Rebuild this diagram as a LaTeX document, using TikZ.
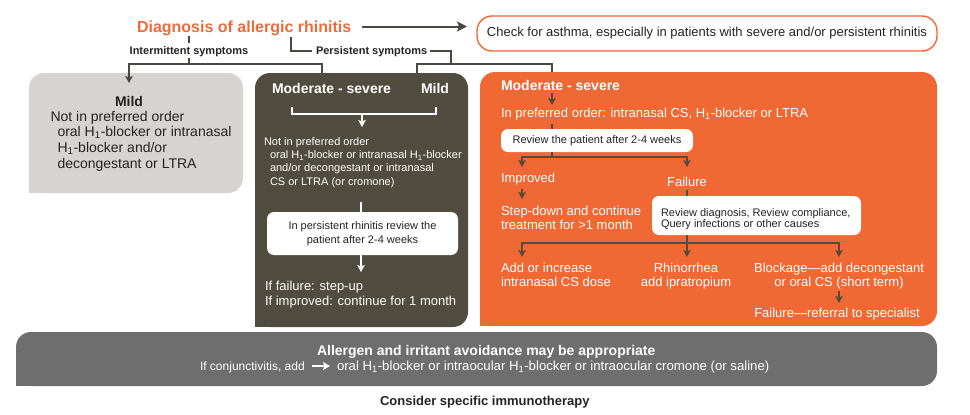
\documentclass[tikz,border=0pt]{standalone}
\usepackage{fontspec}
\setmainfont{Liberation Sans}
\usetikzlibrary{arrows.meta}
\definecolor{orng}{RGB}{240,104,52}
\definecolor{titleor}{RGB}{235,108,58}
\definecolor{darkbox}{RGB}{80,76,64}
\definecolor{lightbox}{RGB}{214,211,208}
\definecolor{bandcol}{RGB}{110,110,110}
\definecolor{conn}{RGB}{75,72,68}
\definecolor{oconn}{RGB}{88,74,62}
\definecolor{txt}{RGB}{35,35,35}
\newcommand{\fs}[2]{\fontsize{#1}{#2}\selectfont}
\newcommand{\Hone}{H\textsubscript{1}}
\newcommand{\mlL}[1]{\begin{tabular}[t]{@{}l@{}}#1\end{tabular}}
\newcommand{\mlC}[1]{\begin{tabular}[t]{@{}c@{}}#1\end{tabular}}
\begin{document}
\begin{tikzpicture}[x=1pt,y=-1pt,
  every node/.style={inner sep=0pt, outer sep=0pt},
  panel/.style={rounded corners=15pt, anchor=north west},
  wbox/.style={fill=white, rounded corners=7pt, anchor=north west},
  tx/.style={anchor=base west},
  tc/.style={anchor=base},
  conline/.style={draw=conn, line width=1.8pt},
  oline/.style={draw=oconn, line width=2.2pt},
  wline/.style={draw=white, line width=1.6pt},
  arr/.style={-{Stealth[length=7pt,width=7.5pt,inset=1.5pt]}},
]
\useasboundingbox (0,0) rectangle (970,415);

% ---------- panels ----------
\node[panel, fill=lightbox, minimum width=214pt, minimum height=120pt] (mildbox) at (29,73) {};
\fill[lightbox] (mildbox.south west) rectangle ++(16,-16);
\node[panel, fill=darkbox, minimum width=213pt, minimum height=254pt] (persbox) at (255,73) {};
\fill[darkbox] (persbox.south west) rectangle ++(16,-16);
\node[panel, fill=orng, minimum width=457pt, minimum height=254pt] (modbox) at (480,72) {};
\fill[orng] (modbox.south west) rectangle ++(16,-16);
\node[panel, fill=bandcol, minimum width=921pt, minimum height=54pt] (bandbox) at (16,332) {};
\fill[bandcol] (bandbox.south west) rectangle ++(16,-16);

% ---------- title and asthma box ----------
\node[tx, font=\bfseries\fs{16}{19}, text=titleor] (diag) at (137,32.5) {Diagnosis of allergic rhinitis};
\node[anchor=north west, draw=orng, line width=1.4pt, rounded corners=15pt, minimum width=460pt,
      minimum height=35pt, fill=white, font=\fs{13}{15}, text=txt] (check) at (477,16)
      {Check for asthma, especially in patients with severe and/or persistent rhinitis};
\coordinate (ta0) at (362,26.5);
\coordinate (ta1) at (467,26.5);
\draw[conline, line width=2pt, -{Stealth[length=10pt,width=10pt,inset=2pt]}] (ta0) -- (ta1);

% ---------- intermittent ----------
\node[tc, font=\bfseries\fs{11}{13}, text=txt] (intlab) at (189,54.5) {Intermittent symptoms};
\coordinate (i0) at (189,36);
\coordinate (i1) at (189,43);
\coordinate (i2) at (189,58);
\coordinate (i3) at (189,64);
\coordinate (imild) at (129,83);
\coordinate (imod) at (322,73);
\draw[conline] (i0) -- (i1);
\draw[conline] (i2) -- (i3);
\draw[conline, arr] (i3) -| (imild);
\draw[conline] (i3) -| (imod);

% ---------- persistent ----------
\node[tx, font=\bfseries\fs{11}{13}, text=txt] (perslab) at (316,54.5) {Persistent symptoms};
\coordinate (p0) at (291,37);
\coordinate (p1) at (312,51);
\coordinate (p2) at (430,51);
\coordinate (p3) at (451,64);
\coordinate (pmild) at (417,73);
\coordinate (pmod) at (552,72);
\coordinate (pj) at (552,64);
\draw[conline] (p0) |- (p1);
\draw[conline] (p2) -| (p3);
\draw[conline] (pmild) |- (pj) -- (pmod);

% ---------- light box ----------
\node[tc, font=\bfseries\fs{14}{16}, text=txt] (mildt) at (129,106.7) {Mild};
\node[tx, font=\fs{14}{15.8}, text=txt] (mildtx) at (50.5,121)
  {\mlL{Not in preferred order\\\hspace*{7pt}oral \Hone-blocker or intranasal\\\hspace*{7pt}\Hone-blocker and/or\\\hspace*{7pt}decongestant or LTRA}};

% ---------- dark box ----------
\node[tx, font=\bfseries\fs{14}{16}, text=white] (dmod) at (272,93.5) {Moderate - severe};
\node[tx, font=\bfseries\fs{14}{16}, text=white] (dmild) at (421,93.5) {Mild};
\coordinate (b0) at (292,107);
\coordinate (b1) at (436,114);
\coordinate (b2) at (436,107);
\coordinate (bm) at (362,114);
\coordinate (bt) at (362,127);
\draw[wline] (b0) |- (b1) -- (b2);
\draw[wline, arr] (bm) -- (bt);
\node[tx, font=\fs{11}{13.2}, text=white] (dtx) at (264,145.5)
  {\mlL{Not in preferred order\\\hspace*{6pt}oral \Hone-blocker or intranasal \Hone-blocker\\\hspace*{6pt}and/or decongestant or intranasal\\\hspace*{6pt}CS or LTRA (or cromone)}};
\node[wbox, minimum width=191pt, minimum height=43pt, font=\fs{11}{14.5}, text=txt, align=center] (rev3) at (267,212)
  {In persistent rhinitis review the\\patient after 2-4 weeks};
\coordinate (d0) at (361,202);
\coordinate (d1) at (361,272);
\draw[wline] (d0) -- (d0 |- rev3.north);
\draw[wline, arr] (d0 |- rev3.south) -- (d1);
\node[tx, font=\fs{13}{15.5}, text=white] (dres) at (265,290)
  {\mlL{If failure: step-up\\If improved: continue for 1 month}};

% ---------- orange box ----------
\node[tx, font=\bfseries\fs{14}{16}, text=white] (omod) at (501,90) {Moderate - severe};
\coordinate (o0) at (552,93);
\coordinate (o1) at (552,105);
\draw[oline, arr] (o0) -- (o1);
\node[tx, font=\fs{13}{15}, text=white] (opref) at (501,117.5) {In preferred order: intranasal CS, \Hone-blocker or LTRA};
\node[wbox, minimum width=192pt, minimum height=23pt, font=\fs{11}{13}, text=txt] (rev1) at (501,129) {Review the patient after 2-4 weeks};
\coordinate (o2) at (552,124);
\draw[oline] (o2) -- (o2 |- rev1.north);
\coordinate (oj) at (552,157);
\coordinate (oimp) at (522,167);
\coordinate (ofail) at (687,167);
\draw[oline] (o2 |- rev1.south) -- (oj);
\draw[oline, arr] (oj) -| (oimp);
\draw[oline, arr] (oj) -| (ofail);
\node[tx, font=\fs{13}{15}, text=white] (improved) at (501,182.5) {Improved};
\node[tc, font=\fs{13}{15}, text=white] (failure) at (687,186) {Failure};
\coordinate (s0) at (522,189);
\coordinate (s1) at (522,199);
\draw[oline, arr] (s0) -- (s1);
\node[tx, font=\fs{13}{14.5}, text=white] (stepdown) at (501,215)
  {\mlL{Step-down and continue\\treatment for {>}1 month}};
\node[wbox, minimum width=209pt, minimum height=39pt] (rev2) at (652,196) {};
\node[tx, font=\fs{11}{10.5}, text=txt] (rev2tx) at (661,216)
  {\mlL{Review diagnosis, Review compliance,\\Query infections or other causes}};
\coordinate (f0) at (687,190);
\draw[oline] (f0) -- (f0 |- rev2.north);
\coordinate (fj) at (687,243);
\coordinate (fa) at (522,257);
\coordinate (fb) at (687,257);
\coordinate (fc) at (839,257);
\draw[oline] (f0 |- rev2.south) -- (fj);
\draw[oline, arr] (fj) -| (fa);
\draw[oline, arr] (fj) -- (fb);
\draw[oline, arr] (fj) -| (fc);
\node[tx, font=\fs{13}{14.5}, text=white] (addinc) at (501,272)
  {\mlL{Add or increase\\intranasal CS dose}};
\node[tc, font=\fs{13}{14.5}, text=white] (rhino) at (686,272)
  {\mlC{Rhinorrhea\\add ipratropium}};
\node[tc, font=\fs{13}{14.5}, text=white] (block) at (839,272)
  {\mlC{Blockage—add decongestant\\or oral CS (short term)}};
\coordinate (g0) at (839,291);
\coordinate (g1) at (839,303);
\draw[oline, arr] (g0) -- (g1);
\node[tc, font=\fs{13}{15}, text=white] (refer) at (837,317) {Failure—referral to specialist};

% ---------- band ----------
\node[tx, font=\bfseries\fs{14}{16}, text=white] (allergen) at (317,355.7) {Allergen and irritant avoidance may be appropriate};
\node[tx, font=\fs{12}{15}, text=white] (conj) at (200,370.7) {If conjunctivitis, add};
\node[tx, font=\fs{13.2}{15}, text=white] (oral) at (337,370.7) {oral \Hone-blocker or intraocular \Hone-blocker or intraocular cromone (or saline)};
\coordinate (c0) at (312,366);
\coordinate (c1) at (330,366);
\draw[white, line width=2.2pt, -{Stealth[length=7pt,width=8pt,inset=1.5pt]}] (c0) -- (c1);
\node[tx, font=\bfseries\fs{13}{15}, text=txt] (consider) at (380,405.7) {Consider specific immunotherapy};
\end{tikzpicture}
\end{document}
